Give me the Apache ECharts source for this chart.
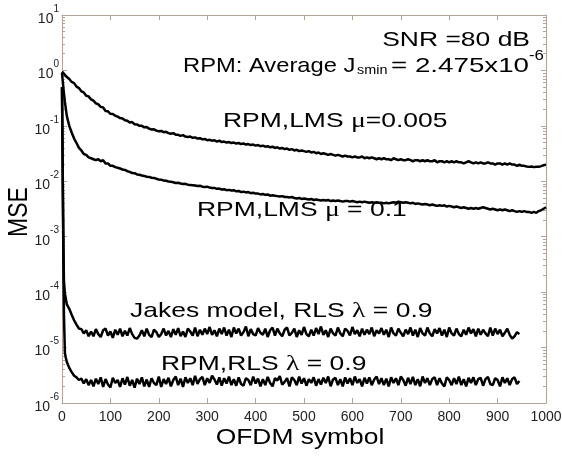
<!DOCTYPE html>
<html>
<head>
    <meta charset="utf-8">
    <title>MSE vs OFDM symbol</title>
    <script src="https://cdn.jsdelivr.net/npm/echarts@6/dist/echarts.min.js"></script>
    <style>
        html,body{margin:0;padding:0;background:#fff;}
        #chart{width:562px;height:456px;}
    </style>
</head>
<body>
<div id="chart"></div>
<script>
    // symbol index of the first samples, after that one sample every 5 symbols
    var symHead = [0, 1, 2, 3, 4, 6, 8, 10];

    // RPM, LMS mu=0.005
    var lmsSlow = [0.95, 0.93, 0.9, 0.88, 0.87, 0.83, 0.8, 0.76,
        0.7, 0.62, 0.59, 0.51, 0.48, 0.42, 0.4, 0.35, 0.34, 0.3,
        0.285, 0.255, 0.245, 0.22, 0.215, 0.185, 0.183, 0.165, 0.163, 0.152,
        0.147, 0.138, 0.136, 0.126, 0.124, 0.115, 0.117, 0.107, 0.106, 0.1,
        0.1, 0.094, 0.095, 0.089, 0.086, 0.087, 0.082, 0.08, 0.081, 0.077,
        0.078, 0.074, 0.072, 0.074, 0.069, 0.069, 0.066, 0.068, 0.064, 0.063,
        0.064, 0.061, 0.062, 0.059, 0.06, 0.057, 0.058, 0.055, 0.056, 0.054,
        0.055, 0.052, 0.054, 0.051, 0.052, 0.05, 0.051, 0.049, 0.05, 0.048,
        0.049, 0.047, 0.048, 0.046, 0.047, 0.045, 0.046, 0.044, 0.045, 0.043,
        0.044, 0.042, 0.043, 0.041, 0.042, 0.04, 0.041, 0.039, 0.04, 0.038,
        0.039, 0.037, 0.038, 0.036, 0.037, 0.035, 0.036, 0.035, 0.034, 0.035,
        0.033, 0.034, 0.032, 0.033, 0.031, 0.032, 0.031, 0.03, 0.031, 0.03,
        0.029, 0.03, 0.029, 0.028, 0.029, 0.028, 0.028, 0.027, 0.028, 0.027,
        0.027, 0.028, 0.026, 0.027, 0.026, 0.027, 0.026, 0.025, 0.026, 0.025,
        0.026, 0.025, 0.025, 0.024, 0.026, 0.025, 0.024, 0.025, 0.024, 0.024,
        0.025, 0.024, 0.023, 0.024, 0.024, 0.023, 0.024, 0.023, 0.024, 0.023,
        0.023, 0.024, 0.022, 0.023, 0.023, 0.022, 0.023, 0.022, 0.023, 0.022,
        0.023, 0.022, 0.022, 0.021, 0.022, 0.023, 0.022, 0.021, 0.022, 0.021,
        0.022, 0.021, 0.021, 0.022, 0.021, 0.021, 0.02, 0.021, 0.021, 0.02,
        0.021, 0.02, 0.021, 0.02, 0.02, 0.019, 0.02, 0.019, 0.019, 0.0185,
        0.0182, 0.0185, 0.018, 0.0183, 0.0182, 0.0188, 0.0195, 0.02];

    // RPM, LMS mu=0.1
    var lmsFast = [0.9, 0.72, 0.58, 0.47, 0.39, 0.27, 0.2, 0.15,
        0.1, 0.076, 0.059, 0.049, 0.04, 0.036, 0.031, 0.03, 0.027, 0.026,
        0.025, 0.024, 0.025, 0.023, 0.024, 0.021, 0.021, 0.019, 0.019, 0.018,
        0.0175, 0.017, 0.0163, 0.016, 0.0152, 0.0148, 0.0141, 0.014, 0.0133, 0.0131,
        0.0127, 0.0125, 0.0121, 0.012, 0.0116, 0.0115, 0.0111, 0.0108, 0.0107, 0.0103,
        0.0102, 0.0099, 0.0098, 0.0096, 0.0093, 0.0094, 0.0091, 0.0089, 0.009, 0.0087,
        0.0086, 0.0085, 0.0084, 0.0082, 0.0083, 0.008, 0.0079, 0.008, 0.0077, 0.0076,
        0.0076, 0.0073, 0.0074, 0.0071, 0.0072, 0.0069, 0.007, 0.0068, 0.0069, 0.0066,
        0.0067, 0.0064, 0.0065, 0.0063, 0.0064, 0.0061, 0.0062, 0.006, 0.006, 0.0058,
        0.0059, 0.0057, 0.0058, 0.0055, 0.0056, 0.0055, 0.0054, 0.0053, 0.0054, 0.0052,
        0.0052, 0.0051, 0.0052, 0.005, 0.0049, 0.005, 0.0048, 0.0049, 0.0048, 0.0047,
        0.0048, 0.0046, 0.0047, 0.0046, 0.0045, 0.0046, 0.0045, 0.0046, 0.0044, 0.0045,
        0.0044, 0.0045, 0.0044, 0.0043, 0.0044, 0.0044, 0.0043, 0.0044, 0.0043, 0.0042,
        0.0043, 0.0042, 0.0043, 0.0042, 0.0041, 0.0042, 0.0041, 0.0042, 0.0041, 0.0041,
        0.004, 0.0041, 0.004, 0.0041, 0.0042, 0.0041, 0.0043, 0.0042, 0.0041, 0.0042,
        0.0041, 0.004, 0.0041, 0.0039, 0.004, 0.0039, 0.0038, 0.0039, 0.0038, 0.0037,
        0.0038, 0.0037, 0.0036, 0.0037, 0.0036, 0.0037, 0.0035, 0.0036, 0.0035, 0.0034,
        0.0035, 0.0034, 0.0033, 0.0034, 0.0033, 0.0032, 0.0033, 0.0032, 0.0033, 0.0032,
        0.0033, 0.0034, 0.0033, 0.0032, 0.0031, 0.0032, 0.0031, 0.003, 0.0031, 0.003,
        0.0031, 0.003, 0.0029, 0.003, 0.0029, 0.0028, 0.0029, 0.0028, 0.0029, 0.0028,
        0.0028, 0.0027, 0.0028, 0.0027, 0.0029, 0.003, 0.0032, 0.0034];

    // Jakes model, RLS lambda=0.9 : head in MSE, body in units of 1e-5
    var jakesHead = [0.5, 0.05, 0.005, 6e-4, 1.6e-4, 9.5e-5, 7.5e-5, 6e-5];
    var jakesE5 = [5.0, 3.9, 3.1, 2.6, 2.2, 2.15, 1.8, 2.05, 1.6, 1.95,
        1.6, 2.15, 1.75, 1.55, 2.05, 2.2, 1.65, 1.95, 1.5, 2.1,
        1.7, 2.2, 1.6, 2.0, 1.65, 2.25, 1.75, 1.5, 1.45, 1.65,
        2.05, 1.6, 2.2, 1.7, 1.55, 2.1, 1.9, 1.55, 1.75, 2.2,
        1.65, 2.0, 1.55, 2.15, 1.7, 2.25, 1.6, 1.95, 1.55, 2.2,
        1.95, 1.65, 2.3, 1.6, 2.1, 1.7, 2.2, 1.75, 2.35, 1.7,
        2.05, 1.6, 2.2, 1.75, 2.3, 1.65, 2.1, 1.55, 2.3, 1.8,
        2.2, 1.65, 1.9, 2.4, 1.6, 2.15, 1.75, 1.65, 2.25, 1.85,
        1.7, 2.2, 1.55, 2.05, 2.3, 1.65, 2.2, 1.8, 1.6, 2.1,
        2.3, 1.65, 1.85, 2.2, 1.55, 2.05, 1.7, 2.35, 1.75, 1.6,
        2.1, 1.65, 2.25, 1.75, 2.4, 1.7, 2.05, 1.55, 2.2, 1.8,
        1.65, 2.3, 1.8, 1.6, 2.2, 2.0, 1.65, 2.35, 1.75, 2.05,
        1.6, 2.2, 1.7, 2.1, 1.75, 2.3, 1.6, 2.05, 1.8, 2.25,
        1.7, 2.1, 1.55, 2.3, 1.8, 1.65, 2.2, 1.85, 1.6, 2.1,
        1.75, 2.3, 1.65, 2.1, 1.55, 2.25, 1.8, 1.65, 2.3, 1.8,
        1.6, 2.15, 1.8, 2.25, 1.65, 2.1, 1.55, 2.3, 1.8, 1.65,
        2.2, 1.75, 1.6, 2.1, 1.7, 2.3, 1.8, 2.15, 1.6, 2.2,
        1.7, 2.1, 1.8, 1.6, 2.3, 1.65, 2.2, 1.75, 2.1, 1.6,
        1.85, 2.2, 1.7, 1.45, 1.6, 1.9, 1.75];

    // RPM, RLS lambda=0.9 : head in MSE, body in units of 1e-6
    var rlsHead = [0.5, 0.04, 0.003, 3e-4, 4e-5, 8e-6, 6.5e-6, 5.5e-6];
    var rlsE6 = [4.3, 3.6, 3.1, 2.9, 2.6, 2.75, 2.25, 2.7, 2.1, 2.6,
        2.0, 2.75, 2.2, 2.9, 1.95, 2.7, 2.15, 1.9, 2.85, 2.3,
        2.6, 1.95, 2.8, 2.15, 2.95, 2.05, 2.6, 1.9, 2.75, 2.2,
        2.9, 2.0, 2.65, 1.95, 2.8, 2.3, 2.1, 3.0, 1.95, 2.7,
        2.2, 2.85, 2.0, 2.6, 3.0, 2.1, 2.75, 1.95, 2.9, 2.3,
        2.8, 2.1, 3.1, 2.2, 2.7, 2.95, 2.1, 2.8, 2.3, 3.1,
        2.65, 2.15, 2.9, 2.05, 2.8, 2.25, 3.0, 2.1, 2.7, 2.05,
        2.9, 2.2, 2.05, 2.8, 2.6, 2.1, 3.0, 2.25, 2.75, 2.0,
        2.7, 2.1, 2.95, 2.3, 2.0, 2.8, 2.55, 3.05, 2.15, 2.4,
        2.8, 2.0, 2.9, 2.6, 2.1, 3.0, 2.25, 2.8, 2.05, 2.7,
        2.3, 2.9, 2.05, 2.7, 2.15, 2.85, 2.3, 3.0, 2.0, 2.65,
        2.85, 2.1, 2.7, 2.0, 2.9, 2.25, 2.8, 2.1, 3.0, 2.3,
        2.7, 2.0, 2.85, 2.25, 2.9, 2.1, 2.65, 3.0, 2.2, 2.8,
        2.1, 2.75, 2.0, 2.9, 2.3, 2.8, 2.1, 3.0, 2.6, 2.05,
        2.85, 2.2, 2.95, 2.1, 2.7, 2.0, 3.0, 2.3, 2.8, 2.1,
        2.7, 2.9, 2.1, 2.8, 2.25, 2.0, 2.9, 2.6, 2.1, 2.8,
        2.2, 3.0, 2.1, 2.7, 2.0, 2.85, 2.3, 2.9, 2.1, 2.7,
        2.85, 2.05, 2.7, 2.95, 2.2, 2.1, 2.8, 2.6, 2.0, 2.9,
        2.3, 2.8, 2.1, 2.7, 2.9, 2.2, 2.5];

    var decadeTicks = [1e-6, 1e-5, 1e-4, 1e-3, 1e-2, 1e-1, 1, 10];
    var xTicks = [0, 100, 200, 300, 400, 500, 600, 700, 800, 900, 1000];

    var frameColor = '#b3a497';
    var txtFont = '"Liberation Sans", Arial, sans-serif';
    var greekFont = '"Liberation Serif", "DejaVu Serif", serif';

    function symAt(i){
        return i < symHead.length ? symHead[i] : 15 + 5 * (i - symHead.length);
    }
    function toPairs(vals){
        var out = [];
        for(var i = 0; i < vals.length; i++){
            out.push([symAt(i), vals[i]]);
        }
        return out;
    }
    function scaled(head, body, unit){
        var v = head.slice();
        for(var i = 0; i < body.length; i++){
            v.push(body[i] * unit);
        }
        return v;
    }

    // minor ticks 2..9 inside every decade
    var minorTicks = [];
    for(var d = 0; d < decadeTicks.length - 1; d++){
        for(var m = 2; m <= 9; m++){
            minorTicks.push(decadeTicks[d] * m);
        }
    }

    function yAxisBase(pos, showLine){
        return {
            type: 'log',
            logBase: 10,
            min: 1e-6,
            max: 10,
            position: pos,
            offset: 0,
            splitLine: {show: false},
            axisLine: {show: showLine, onZero: false, lineStyle: {color: frameColor, width: 1}},
            axisTick: {show: true, inside: true, length: 5, customValues: decadeTicks,
                lineStyle: {color: frameColor}},
            axisLabel: {show: false}
        };
    }

    var yLeft = yAxisBase('left', true);
    yLeft.axisLabel = {
        show: true,
        customValues: decadeTicks,
        margin: 3,
        formatter: function(v){
            var e = Math.round(Math.log(v) / Math.LN10);
            return '{b|10}{s|' + e + '}';
        },
        rich: {
            b: {fontSize: 14, fontFamily: txtFont, color: '#222', lineHeight: 22, verticalAlign: 'bottom'},
            s: {fontSize: 10, fontFamily: txtFont, color: '#222', lineHeight: 12, verticalAlign: 'top'}
        }
    };
    var yRight = yAxisBase('right', true);
    var yMinorL = yAxisBase('left', false);
    yMinorL.axisTick = {show: true, inside: true, length: 3, customValues: minorTicks,
        lineStyle: {color: frameColor}};
    var yMinorR = yAxisBase('right', false);
    yMinorR.axisTick = {show: true, inside: true, length: 3, customValues: minorTicks,
        lineStyle: {color: frameColor}};

    function xAxisBase(pos, showLabel){
        return {
            type: 'value',
            min: 0,
            max: 1000,
            interval: 100,
            position: pos,
            splitLine: {show: false},
            axisLine: {show: true, onZero: false, lineStyle: {color: frameColor, width: 1}},
            axisTick: {show: true, inside: true, length: 5, lineStyle: {color: frameColor}},
            axisLabel: {show: showLabel, margin: 7, fontSize: 14, fontFamily: txtFont, color: '#222',
                customValues: xTicks,
                formatter: function(v){ return String(v); }}
        };
    }

    function lineSeries(name, vals){
        return {
            name: name,
            type: 'line',
            xAxisIndex: 0,
            yAxisIndex: 0,
            data: toPairs(vals),
            showSymbol: false,
            symbol: 'none',
            lineStyle: {color: '#000', width: 2.5},
            z: 5
        };
    }

    function label(x, y, rich, align, sx){
        return {
            type: 'text',
            x: x,
            y: y,
            scaleX: sx,
            z: 10,
            style: {
                text: rich,
                textAlign: align,
                textVerticalAlign: 'middle',
                rich: {
                    n: {fontSize: 21, fontFamily: txtFont, fill: '#000'},
                    g: {fontSize: 22, fontFamily: greekFont, fill: '#000'}
                }
            }
        };
    }

    var chart = echarts.init(document.getElementById('chart'), null, {renderer: 'canvas'});
    chart.setOption({
        animation: false,
        backgroundColor: '#fff',
        grid: {left: 62, right: 16, top: 15, bottom: 53, outerBoundsMode: 'none', containLabel: false},
        xAxis: [xAxisBase('bottom', true), xAxisBase('top', false)],
        yAxis: [yLeft, yRight, yMinorL, yMinorR],
        series: [
            lineSeries('RPM,LMS mu=0.005', lmsSlow),
            lineSeries('RPM,LMS mu=0.1', lmsFast),
            lineSeries('Jakes model, RLS lambda=0.9', scaled(jakesHead, jakesE5, 1e-5)),
            lineSeries('RPM,RLS lambda=0.9', scaled(rlsHead, rlsE6, 1e-6))
        ],
        graphic: [
            label(530, 40, '{n|SNR =80 dB}', 'right', 1.26),
            label(183, 66, '{n|RPM: Average J}', 'left', 1.13),
            {type: 'text', x: 357, y: 71, scaleX: 1.2, z: 10,
                style: {text: 'smin', fontSize: 12, fontFamily: txtFont, fill: '#000',
                    textAlign: 'left', textVerticalAlign: 'middle'}},
            label(529, 66, '{n|= 2.475x10}', 'right', 1.32),
            {type: 'text', x: 529, y: 56, scaleX: 1.2, z: 10,
                style: {text: '-6', fontSize: 14, fontFamily: txtFont, fill: '#000',
                    textAlign: 'left', textVerticalAlign: 'middle'}},
            label(223, 121, '{n|RPM,LMS }{g|\u03bc}{n|=0.005}', 'left', 1.26),
            label(197, 210, '{n|RPM,LMS }{g|\u03bc}{n| = 0.1}', 'left', 1.26),
            label(130, 311, '{n|Jakes model, RLS }{g|\u03bb}{n| = 0.9}', 'left', 1.26),
            label(161, 364, '{n|RPM,RLS }{g|\u03bb}{n| = 0.9}', 'left', 1.26),
            {type: 'text', x: 300, y: 438, scaleX: 1.2, z: 10,
                style: {text: 'OFDM symbol', fontSize: 22, fontFamily: txtFont, fill: '#000',
                    textAlign: 'center', textVerticalAlign: 'middle'}},
            {type: 'text', x: 19, y: 212, rotation: Math.PI / 2, scaleY: 1.2, z: 10,
                style: {text: 'MSE', fontSize: 23, fontFamily: txtFont, fill: '#000',
                    textAlign: 'center', textVerticalAlign: 'middle'}}
        ]
    });
</script>
</body>
</html>
